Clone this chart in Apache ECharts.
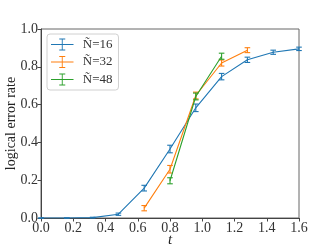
<!DOCTYPE html>
<html><head><meta charset="utf-8">
<script src="https://cdn.jsdelivr.net/npm/echarts@6/dist/echarts.min.js"></script>
<style>html,body{margin:0;padding:0;background:#fff}#c{width:332px;height:249px}</style>
</head><body><div id="c"></div>
<script>
const names = ['Ñ=16', 'Ñ=32', 'Ñ=48'];
const colors = ['#1f77b4', '#ff7f0e', '#2ca02c'];
const t16 = [0.0, 0.16, 0.32, 0.48, 0.64, 0.8, 0.96, 1.12, 1.28, 1.44, 1.6];
const y16 = [0.0, 0.0, 0.002, 0.02, 0.158, 0.365, 0.583, 0.748, 0.837, 0.877, 0.895];
const e16 = [0.0, 0.0, 0.002, 0.006, 0.015, 0.02, 0.02, 0.017, 0.014, 0.011, 0.009];
const t32 = [0.64, 0.8, 0.96, 1.12, 1.28];
const y32 = [0.052, 0.258, 0.648, 0.82, 0.888];
const e32 = [0.014, 0.02, 0.018, 0.016, 0.013];
const t48 = [0.8, 0.96, 1.12];
const y48 = [0.197, 0.643, 0.856];
const e48 = [0.016, 0.018, 0.016];
const xTicks = [0, 0.2, 0.4, 0.6, 0.8, 1.0, 1.2, 1.4, 1.6];
const yTicks = [0, 0.2, 0.4, 0.6, 0.8, 1.0];

const groups = [[t16, y16, e16], [t32, y32, e32], [t48, y48, e48]];
const font = '"Liberation Serif", "DejaVu Serif", serif';
const series = [];
const iconPath = 'path://M0,9.4h30v1.2h-30z M14.4,2h1.2v16h-1.2z M11,2h8v1.2h-8z M11,16.8h8v1.2h-8z';
groups.forEach((g, i) => {
  const [tx, ty, te] = g;
  series.push({
    name: names[i], type: 'line', data: tx.map((x, k) => [x, ty[k]]),
    symbol: 'none', lineStyle: {color: colors[i], width: 1.1}, itemStyle: {color: colors[i]},
    z: 3 + i
  });
  series.push({
    name: names[i], type: 'custom', data: tx.map((x, k) => [x, ty[k] - te[k], ty[k] + te[k]]),
    itemStyle: {color: colors[i]}, z: 3 + i,
    renderItem: (params, api) => {
      const lo = api.coord([api.value(0), api.value(1)]);
      const hi = api.coord([api.value(0), api.value(2)]);
      const c = 2.8;
      const st = {stroke: colors[i], lineWidth: 1.1};
      return {type: 'group', children: [
        {type: 'line', shape: {x1: lo[0], y1: lo[1], x2: hi[0], y2: hi[1]}, style: st},
        {type: 'line', shape: {x1: lo[0]-c, y1: lo[1], x2: lo[0]+c, y2: lo[1]}, style: st},
        {type: 'line', shape: {x1: hi[0]-c, y1: hi[1], x2: hi[0]+c, y2: hi[1]}, style: st}
      ]};
    }
  });
});

const axisLine = {show: true, onZero: false, lineStyle: {color: '#444', width: 1}};
const chart = echarts.init(document.getElementById('c'), null, {renderer: 'canvas'});
chart.setOption({
  animation: false,
  backgroundColor: '#fff',
  grid: {left: 41, right: 33, top: 29, bottom: 31, containLabel: false, outerBoundsMode: 'none',
    show: true, borderColor: '#666', borderWidth: 1, backgroundColor: 'transparent'},
  legend: {
    orient: 'vertical', left: 47, top: 34, data: names.map((n, i) => ({name: n, icon: iconPath, itemStyle: {color: colors[i]}})),
    itemWidth: 23, itemHeight: 12, itemGap: 4.5, padding: [4, 6, 4, 4],
    borderColor: '#d0d0d0', borderWidth: 1, borderRadius: 3, backgroundColor: 'rgba(255,255,255,0.8)',
    textStyle: {fontFamily: font, fontSize: 13, color: '#333', padding: [0, 0, 0, 4]}, selectedMode: false
  },
  xAxis: {
    type: 'value', min: 0, max: 1.6, interval: 0.2,
    name: 't', nameLocation: 'middle', nameGap: 15, nameMoveOverlap: false,
    nameTextStyle: {fontFamily: font, fontSize: 15, fontStyle: 'italic', color: '#222'},
    axisLine: axisLine, axisTick: {show: true, length: 3.5, lineStyle: {color: '#444'}},
    axisLabel: {fontFamily: font, fontSize: 14, color: '#333', margin: 3, formatter: v => v.toFixed(1)},
    splitLine: {show: false}
  },
  yAxis: {
    type: 'value', min: 0, max: 1.0, interval: 0.2,
    name: 'logical error rate', nameLocation: 'middle', nameGap: 23, nameMoveOverlap: false,
    nameTextStyle: {fontFamily: font, fontSize: 14, color: '#222'},
    axisLine: axisLine, axisTick: {show: true, length: 3.5, lineStyle: {color: '#444'}},
    axisLabel: {fontFamily: font, fontSize: 14, color: '#333', margin: 3, formatter: v => v.toFixed(1)},
    splitLine: {show: false}
  },
  series: series
});
</script></body></html>
